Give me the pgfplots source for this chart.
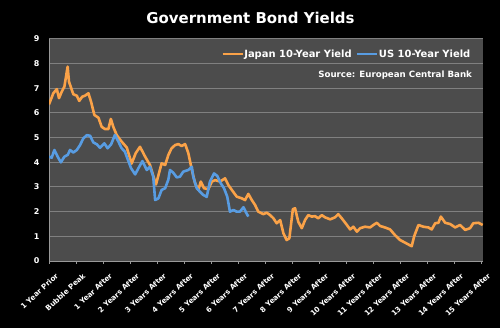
\documentclass[border=0pt]{standalone}
\usepackage{pgfplots}
\pgfplotsset{compat=1.18}
\usepackage{fontspec}
\setmainfont{DejaVu Sans}
\definecolor{jp}{RGB}{250,162,72}
\definecolor{us}{RGB}{88,156,226}
\definecolor{plotbg}{RGB}{76,76,76}
\definecolor{gridc}{RGB}{128,128,128}
\begin{document}
\begin{tikzpicture}
\fill[black] (0bp,0bp) rectangle (500bp,328bp);
\useasboundingbox (0bp,0bp) rectangle (500bp,328bp);
\node[text=white,font=\bfseries\fontsize{15}{18}\selectfont] at (250.5bp,310bp) {Government Bond Yields};
\begin{axis}[at={(49bp,67bp)}, anchor=south west, width=434bp, height=222bp, scale only axis,
  xmin=0, xmax=16.07, ymin=0, ymax=9,
  axis background/.style={fill=plotbg},
  axis x line=bottom, axis y line=left,
  axis line style={-, color=gray!80, line width=1bp},
  ymajorgrids, grid style={gridc, line width=1bp},
  ytick={0,1,...,9},
  xtick={0,1,...,16},
  xticklabels={1 Year Prior, Bubble Peak, 1 Year After, 2 Years After, 3 Years After, 4 Years After, 5 Years After, 6 Years After, 7 Years After, 8 Years After, 9 Years After, 10 Years After, 11 Years After, 12 Years After, 13 Years After, 14 Years After, 15 Years After},
  /pgf/number format/assume math mode=true,
  yticklabel style={text=white, font=\bfseries\fontsize{8}{10}\selectfont, xshift=-3bp},
  xticklabel style={text=white, rotate=43, anchor=north east, font=\bfseries\fontsize{7.3}{8}\selectfont, inner sep=0.3bp, xshift=-1bp, yshift=-10bp},
  ytick style={draw=none},
  xtick style={color=gray!80, line width=0.8bp},
  tick align=outside, major tick length=3bp,
  legend columns=2,
  legend style={draw=none, fill=none, text=white, font=\bfseries\fontsize{10}{12}\selectfont,
    at={(0.972,0.932)}, anchor=east, inner sep=0pt, nodes={inner sep=0.3bp},
    /tikz/every even column/.append style={column sep=4bp}},
  legend image code/.code={\draw[#1] (0bp,0bp) -- (20bp,0bp);},
]
\addplot[jp, line width=2.6bp, line join=round] coordinates {
(0.00,6.35) (0.16,6.80) (0.29,6.97) (0.37,6.60) (0.47,6.86) (0.57,7.07) (0.69,7.88) (0.74,7.27)
(0.90,6.76) (1.03,6.70) (1.12,6.49) (1.23,6.66) (1.33,6.70) (1.46,6.80) (1.56,6.45) (1.68,5.92)
(1.83,5.81) (1.95,5.44) (2.07,5.35) (2.20,5.35) (2.29,5.76) (2.38,5.44) (2.51,5.10) (2.69,4.84)
(2.88,4.60) (3.06,3.95) (3.21,4.37) (3.37,4.63) (3.56,4.23) (3.74,3.89) (3.96,3.10) (4.17,3.96)
(4.30,3.89) (4.42,4.30) (4.54,4.57) (4.67,4.70) (4.79,4.74) (4.91,4.66) (5.04,4.74) (5.16,4.37)
(5.29,3.69) (5.41,3.15) (5.53,2.88) (5.62,3.22) (5.74,2.95) (5.90,2.91) (6.03,3.22) (6.15,3.28)
(6.33,3.22) (6.52,3.35) (6.64,3.08) (6.77,2.88) (6.95,2.61) (7.14,2.54) (7.26,2.47) (7.38,2.72)
(7.51,2.47) (7.63,2.27) (7.75,2.00) (7.94,1.90) (8.06,1.96) (8.19,1.86) (8.31,1.73) (8.43,1.53)
(8.56,1.66) (8.68,1.12) (8.80,0.85) (8.90,0.92) (9.03,2.10) (9.11,2.14) (9.23,1.59) (9.36,1.33)
(9.48,1.66) (9.60,1.86) (9.73,1.80) (9.85,1.82) (9.97,1.73) (10.10,1.86) (10.22,1.77) (10.41,1.69)
(10.59,1.77) (10.71,1.90) (10.84,1.73) (11.03,1.46) (11.15,1.28) (11.27,1.39) (11.40,1.19) (11.52,1.33)
(11.70,1.39) (11.89,1.36) (12.01,1.46) (12.14,1.55) (12.26,1.42) (12.44,1.36) (12.63,1.28) (12.81,1.05)
(13.00,0.85) (13.19,0.74) (13.34,0.65) (13.43,0.60) (13.52,1.00) (13.68,1.46) (13.86,1.39) (14.05,1.36)
(14.17,1.28) (14.30,1.53) (14.42,1.55) (14.51,1.80) (14.67,1.55) (14.85,1.50) (15.04,1.36) (15.22,1.46)
(15.41,1.26) (15.59,1.33) (15.71,1.53) (15.90,1.55) (16.06,1.46)
};
\addlegendentry{Japan 10-Year Yield}
\addplot[us, line width=2.6bp, line join=round] coordinates {
(0.00,4.23) (0.10,4.19) (0.20,4.50) (0.32,4.23) (0.44,4.00) (0.57,4.23) (0.69,4.30) (0.78,4.50)
(0.90,4.40) (1.03,4.50) (1.15,4.70) (1.27,4.97) (1.40,5.10) (1.52,5.08) (1.64,4.81) (1.77,4.73)
(1.89,4.59) (2.05,4.77) (2.17,4.57) (2.30,4.73) (2.44,5.11) (2.57,4.84) (2.69,4.57) (2.81,4.43)
(2.94,4.05) (3.04,3.76) (3.19,3.51) (3.31,3.76) (3.46,4.05) (3.62,3.69) (3.74,3.82) (3.86,3.42)
(3.93,2.47) (4.05,2.54) (4.17,2.88) (4.30,2.95) (4.42,3.30) (4.48,3.69) (4.60,3.58) (4.73,3.39)
(4.85,3.42) (4.97,3.62) (5.16,3.69) (5.29,3.82) (5.34,3.42) (5.47,2.95) (5.59,2.81) (5.71,2.68)
(5.84,2.60) (5.96,3.22) (6.11,3.55) (6.23,3.45) (6.36,3.15) (6.48,2.95) (6.60,2.61) (6.70,2.00)
(6.83,2.07) (6.95,2.00) (7.07,2.00) (7.20,2.18) (7.30,1.96) (7.38,1.80)
};
\addlegendentry{US 10-Year Yield}
\node[anchor=east, inner sep=0pt, text=white, font=\bfseries\fontsize{8.7}{10}\selectfont] at (rel axis cs:0.975,0.838) {Source: European Central Bank};
\end{axis}
\end{tikzpicture}
\end{document}
